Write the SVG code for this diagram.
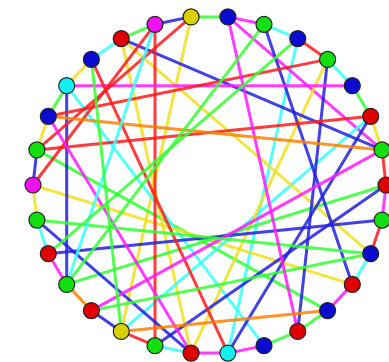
<svg xmlns="http://www.w3.org/2000/svg" width="389" height="362" viewBox="0 0 389 362">
<style>
.e{stroke-width:3;stroke-linecap:round;fill:none;stroke-opacity:0.85}
.r{stroke:#ff1a1a}.m{stroke:#ff1aff}.b{stroke:#2020e0}.c{stroke:#33ffff}.g{stroke:#33ff33}.y{stroke:#f0e020}.o{stroke:#ff8000}
.n{stroke:#222;stroke-width:1.2}
.nb{fill:#0a0ad0}.ng{fill:#10e010}.nr{fill:#e00000}.nm{fill:#f010f0}.ny{fill:#d8d000}.nc{fill:#10f0f0}
</style>
<defs>
<filter id="soft" x="-5%" y="-5%" width="110%" height="110%"><feGaussianBlur stdDeviation="0.6"/></filter>
</defs>
<rect width="389" height="362" fill="#fff"/>
<g id="edges" filter="url(#soft)">
<line class="e g" x1="121.25" y1="38.6" x2="155" y2="24.3"/>
<line class="e b" x1="155" y1="24.3" x2="191.1" y2="16.9"/>
<line class="e g" x1="191.1" y1="16.9" x2="227.9" y2="16.9"/>
<line class="e m" x1="227.9" y1="16.9" x2="264" y2="24.3"/>
<line class="e c" x1="264" y1="24.3" x2="297.75" y2="38.6"/>
<line class="e r" x1="297.75" y1="38.6" x2="327.6" y2="59.4"/>
<line class="e c" x1="327.6" y1="59.4" x2="352.3" y2="85.7"/>
<line class="e g" x1="352.3" y1="85.7" x2="370.7" y2="116.3"/>
<line class="e y" x1="370.7" y1="116.3" x2="382.1" y2="149.9"/>
<line class="e r" x1="382.1" y1="149.9" x2="386" y2="185"/>
<line class="e m" x1="386" y1="185" x2="382.1" y2="220.1"/>
<line class="e r" x1="382.1" y1="220.1" x2="370.7" y2="253.7"/>
<line class="e c" x1="370.7" y1="253.7" x2="352.3" y2="284.4"/>
<line class="e m" x1="352.3" y1="284.4" x2="327.6" y2="310.6"/>
<line class="e g" x1="327.6" y1="310.6" x2="297.75" y2="331.4"/>
<line class="e g" x1="297.75" y1="331.4" x2="264" y2="345.7"/>
<line class="e m" x1="264" y1="345.7" x2="227.9" y2="353.1"/>
<line class="e m" x1="227.9" y1="353.1" x2="191.1" y2="353.1"/>
<line class="e c" x1="191.1" y1="353.1" x2="155" y2="345.7"/>
<line class="e r" x1="155" y1="345.7" x2="121.25" y2="331.4"/>
<line class="e b" x1="121.25" y1="331.4" x2="91.4" y2="310.6"/>
<line class="e o" x1="91.4" y1="310.6" x2="66.7" y2="284.4"/>
<line class="e m" x1="66.7" y1="284.4" x2="48.3" y2="253.7"/>
<line class="e c" x1="48.3" y1="253.7" x2="36.9" y2="220.1"/>
<line class="e y" x1="36.9" y1="220.1" x2="33" y2="185"/>
<line class="e b" x1="33" y1="185" x2="36.9" y2="149.9"/>
<line class="e y" x1="36.9" y1="149.9" x2="48.3" y2="116.3"/>
<line class="e g" x1="48.3" y1="116.3" x2="66.7" y2="85.7"/>
<line class="e y" x1="66.7" y1="85.7" x2="91.4" y2="59.4"/>
<line class="e c" x1="91.4" y1="59.4" x2="121.25" y2="38.6"/>
<line class="e y" x1="191.1" y1="16.9" x2="121.25" y2="331.4"/>
<line class="e c" x1="297.75" y1="38.6" x2="227.9" y2="353.1"/>
<line class="e g" x1="327.6" y1="310.6" x2="36.9" y2="149.9"/>
<line class="e c" x1="264" y1="345.7" x2="66.7" y2="85.7"/>
<line class="e y" x1="352.3" y1="284.4" x2="33" y2="185"/>
<line class="e y" x1="121.25" y1="38.6" x2="191.1" y2="353.1"/>
<line class="e m" x1="227.9" y1="16.9" x2="382.1" y2="149.9"/>
<line class="e c" x1="370.7" y1="116.3" x2="121.25" y2="331.4"/>
<line class="e y" x1="327.6" y1="59.4" x2="191.1" y2="353.1"/>
<line class="e g" x1="386" y1="185" x2="66.7" y2="284.4"/>
<line class="e y" x1="370.7" y1="253.7" x2="121.25" y2="38.6"/>
<line class="e b" x1="121.25" y1="38.6" x2="382.1" y2="149.9"/>
<line class="e r" x1="155" y1="24.3" x2="155" y2="345.7"/>
<line class="e b" x1="66.7" y1="85.7" x2="66.7" y2="284.4"/>
<line class="e b" x1="264" y1="24.3" x2="352.3" y2="284.4"/>
<line class="e b" x1="327.6" y1="59.4" x2="297.75" y2="331.4"/>
<line class="e b" x1="227.9" y1="353.1" x2="370.7" y2="116.3"/>
<line class="e b" x1="155" y1="345.7" x2="386" y2="185"/>
<line class="e b" x1="48.3" y1="253.7" x2="382.1" y2="220.1"/>
<line class="e b" x1="36.9" y1="220.1" x2="191.1" y2="353.1"/>
<line class="e m" x1="66.7" y1="85.7" x2="352.3" y2="85.7"/>
<line class="e r" x1="36.9" y1="149.9" x2="370.7" y2="116.3"/>
<line class="e r" x1="155" y1="24.3" x2="33" y2="185"/>
<line class="e r" x1="191.1" y1="16.9" x2="36.9" y2="149.9"/>
<line class="e r" x1="48.3" y1="116.3" x2="327.6" y2="59.4"/>
<line class="e m" x1="48.3" y1="116.3" x2="191.1" y2="353.1"/>
<line class="e r" x1="91.4" y1="59.4" x2="227.9" y2="353.1"/>
<line class="e m" x1="91.4" y1="310.6" x2="382.1" y2="149.9"/>
<line class="e g" x1="36.9" y1="220.1" x2="370.7" y2="253.7"/>
<line class="e g" x1="91.4" y1="310.6" x2="370.7" y2="253.7"/>
<line class="e m" x1="227.9" y1="16.9" x2="297.75" y2="331.4"/>
<line class="e o" x1="121.25" y1="331.4" x2="327.6" y2="310.6"/>
<line class="e o" x1="48.3" y1="116.3" x2="382.1" y2="149.9"/>
<line class="e c" x1="155" y1="24.3" x2="66.7" y2="284.4"/>
<line class="e g" x1="91.4" y1="59.4" x2="121.25" y2="331.4"/>
<line class="e g" x1="48.3" y1="253.7" x2="297.75" y2="38.6"/>
<line class="e g" x1="66.7" y1="284.4" x2="264" y2="24.3"/>
</g>
<g id="n0"><circle class="n nb" cx="227.9" cy="16.9" r="8"/></g>
<g id="n1"><circle class="n ng" cx="264" cy="24.3" r="8"/></g>
<g id="n2"><circle class="n nb" cx="297.75" cy="38.6" r="8"/></g>
<g id="n3"><circle class="n ng" cx="327.6" cy="59.4" r="8"/></g>
<g id="n4"><circle class="n nb" cx="352.3" cy="85.7" r="8"/></g>
<g id="n5"><circle class="n nr" cx="370.7" cy="116.3" r="8"/></g>
<g id="n6"><circle class="n ng" cx="382.1" cy="149.9" r="8"/></g>
<g id="n7"><circle class="n nr" cx="386" cy="185" r="8"/></g>
<g id="n8"><circle class="n ng" cx="382.1" cy="220.1" r="8"/></g>
<g id="n9"><circle class="n nb" cx="370.7" cy="253.7" r="8"/></g>
<g id="n10"><circle class="n nr" cx="352.3" cy="284.4" r="8"/></g>
<g id="n11"><circle class="n nb" cx="327.6" cy="310.6" r="8"/></g>
<g id="n12"><circle class="n nr" cx="297.75" cy="331.4" r="8"/></g>
<g id="n13"><circle class="n nb" cx="264" cy="345.7" r="8"/></g>
<g id="n14"><circle class="n nc" cx="227.9" cy="353.1" r="8"/></g>
<g id="n15"><circle class="n nr" cx="191.1" cy="353.1" r="8"/></g>
<g id="n16"><circle class="n ng" cx="155" cy="345.7" r="8"/></g>
<g id="n17"><circle class="n ny" cx="121.25" cy="331.4" r="8"/></g>
<g id="n18"><circle class="n nr" cx="91.4" cy="310.6" r="8"/></g>
<g id="n19"><circle class="n ng" cx="66.7" cy="284.4" r="8"/></g>
<g id="n20"><circle class="n nr" cx="48.3" cy="253.7" r="8"/></g>
<g id="n21"><circle class="n ng" cx="36.9" cy="220.1" r="8"/></g>
<g id="n22"><circle class="n nm" cx="33" cy="185" r="8"/></g>
<g id="n23"><circle class="n ng" cx="36.9" cy="149.9" r="8"/></g>
<g id="n24"><circle class="n nb" cx="48.3" cy="116.3" r="8"/></g>
<g id="n25"><circle class="n nc" cx="66.7" cy="85.7" r="8"/></g>
<g id="n26"><circle class="n nb" cx="91.4" cy="59.4" r="8"/></g>
<g id="n27"><circle class="n nr" cx="121.25" cy="38.6" r="8"/></g>
<g id="n28"><circle class="n nm" cx="155" cy="24.3" r="8"/></g>
<g id="n29"><circle class="n ny" cx="191.1" cy="16.9" r="8"/></g>
</svg>
